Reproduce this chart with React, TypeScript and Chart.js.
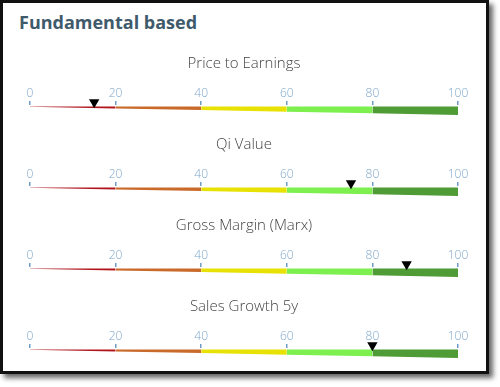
import React, { useEffect, useRef } from "react";
import { Chart, registerables } from "chart.js";

Chart.register(...registerables);

const HEADING = "Fundamental based";
const GAUGE_TITLES = ["Price to Earnings", "Qi Value", "Gross Margin (Marx)", "Sales Growth 5y"];
const GAUGE_VALUES = [15, 75, 88, 80];
const BAND_EDGES = [0, 20, 40, 60, 80, 100];
const BAND_COLORS = ["#b0151d", "#c96a2b", "#e8e204", "#7def4f", "#4f9b35"];
const TICK_STEP = 20;

const WEDGE_MIN = 0.6;
const WEDGE_MAX = 12;
const thick = (v: number) => WEDGE_MIN + ((WEDGE_MAX - WEDGE_MIN) * v) / 100;

const FONT = "'Open Sans', 'DejaVu Sans', sans-serif";

function Gauge({ title, value, top }: { title: string; value: number; top: number }) {
  const ref = useRef<HTMLCanvasElement | null>(null);
  useEffect(() => {
    if (!ref.current) return;
    const bands = BAND_COLORS.map((c, i) => ({
      type: "scatter" as const,
      showLine: true,
      data: [
        { x: BAND_EDGES[i], y: -thick(BAND_EDGES[i]) },
        { x: BAND_EDGES[i + 1], y: -thick(BAND_EDGES[i + 1]) },
      ],
      borderWidth: 0,
      borderColor: "rgba(0,0,0,0)",
      backgroundColor: c,
      pointRadius: 0,
      fill: { value: 0 },
      order: 2,
    }));
    const chart = new Chart(ref.current, {
      type: "scatter",
      data: {
        datasets: [
          {
            data: [{ x: value, y: 6 }],
            pointStyle: "triangle",
            rotation: 180,
            pointRadius: 6,
            backgroundColor: "#000",
            borderWidth: 0,
            clip: false,
            order: 0,
          } as any,
          ...(bands as any[]),
        ],
      },
      options: {
        animation: false,
        responsive: false,
        maintainAspectRatio: false,
        devicePixelRatio: 1,
        events: [],
        layout: { padding: { left: 30, right: 31, top: 0, bottom: 0 } },
        plugins: {
          legend: { display: false },
          tooltip: { enabled: false },
          title: {
            display: true,
            text: title,
            color: "#444",
            font: { family: FONT, size: 15, weight: "300" as any, lineHeight: 1.2 },
            padding: { top: 10, bottom: 6 },
          },
        },
        scales: {
          x: {
            type: "linear",
            position: "top",
            min: 0,
            max: 100,
            ticks: {
              stepSize: TICK_STEP,
              color: "#7ea7cb",
              font: { family: FONT, size: 12, weight: "300" as any, lineHeight: 1 },
              padding: 1,
              maxRotation: 0,
            },
            grid: {
              drawOnChartArea: false,
              drawTicks: true,
              tickLength: 4,
              color: "#6f9cc4",
              lineWidth: 1.5,
            },
            border: { display: false },
            afterFit: (s: any) => {
              s.height = 26;
            },
          },
          y: { type: "linear", display: false, min: -19, max: 2 },
        },
      },
    });
    return () => chart.destroy();
  }, [title, value]);
  return (
    <canvas
      ref={ref}
      width={489}
      height={81}
      style={{ position: "absolute", left: 0, top, width: 489, height: 81 }}
    />
  );
}

export default function App() {
  return (
    <div style={{ position: "relative", width: 500, height: 387, background: "#fff", overflow: "hidden" }}>
      <style>{`body{margin:0;}`}</style>
      <div
        style={{
          position: "absolute",
          left: 0,
          top: 0,
          width: 489,
          height: 374,
          boxSizing: "border-box",
          border: "3px solid #111",
          background: "#fff",
          boxShadow: "4px 4px 5px rgba(0,0,0,0.6)",
        }}
      />
      <div
        style={{
          position: "absolute",
          left: 19,
          top: 10,
          fontFamily: FONT,
          fontWeight: 700,
          fontSize: 18,
          color: "#3f5a6b",
          lineHeight: "24px",
          whiteSpace: "nowrap",
        }}
      >
        {HEADING}
      </div>
      {GAUGE_TITLES.map((t, i) => (
        <Gauge key={t} title={t} value={GAUGE_VALUES[i]} top={45 + 81 * i} />
      ))}
    </div>
  );
}
